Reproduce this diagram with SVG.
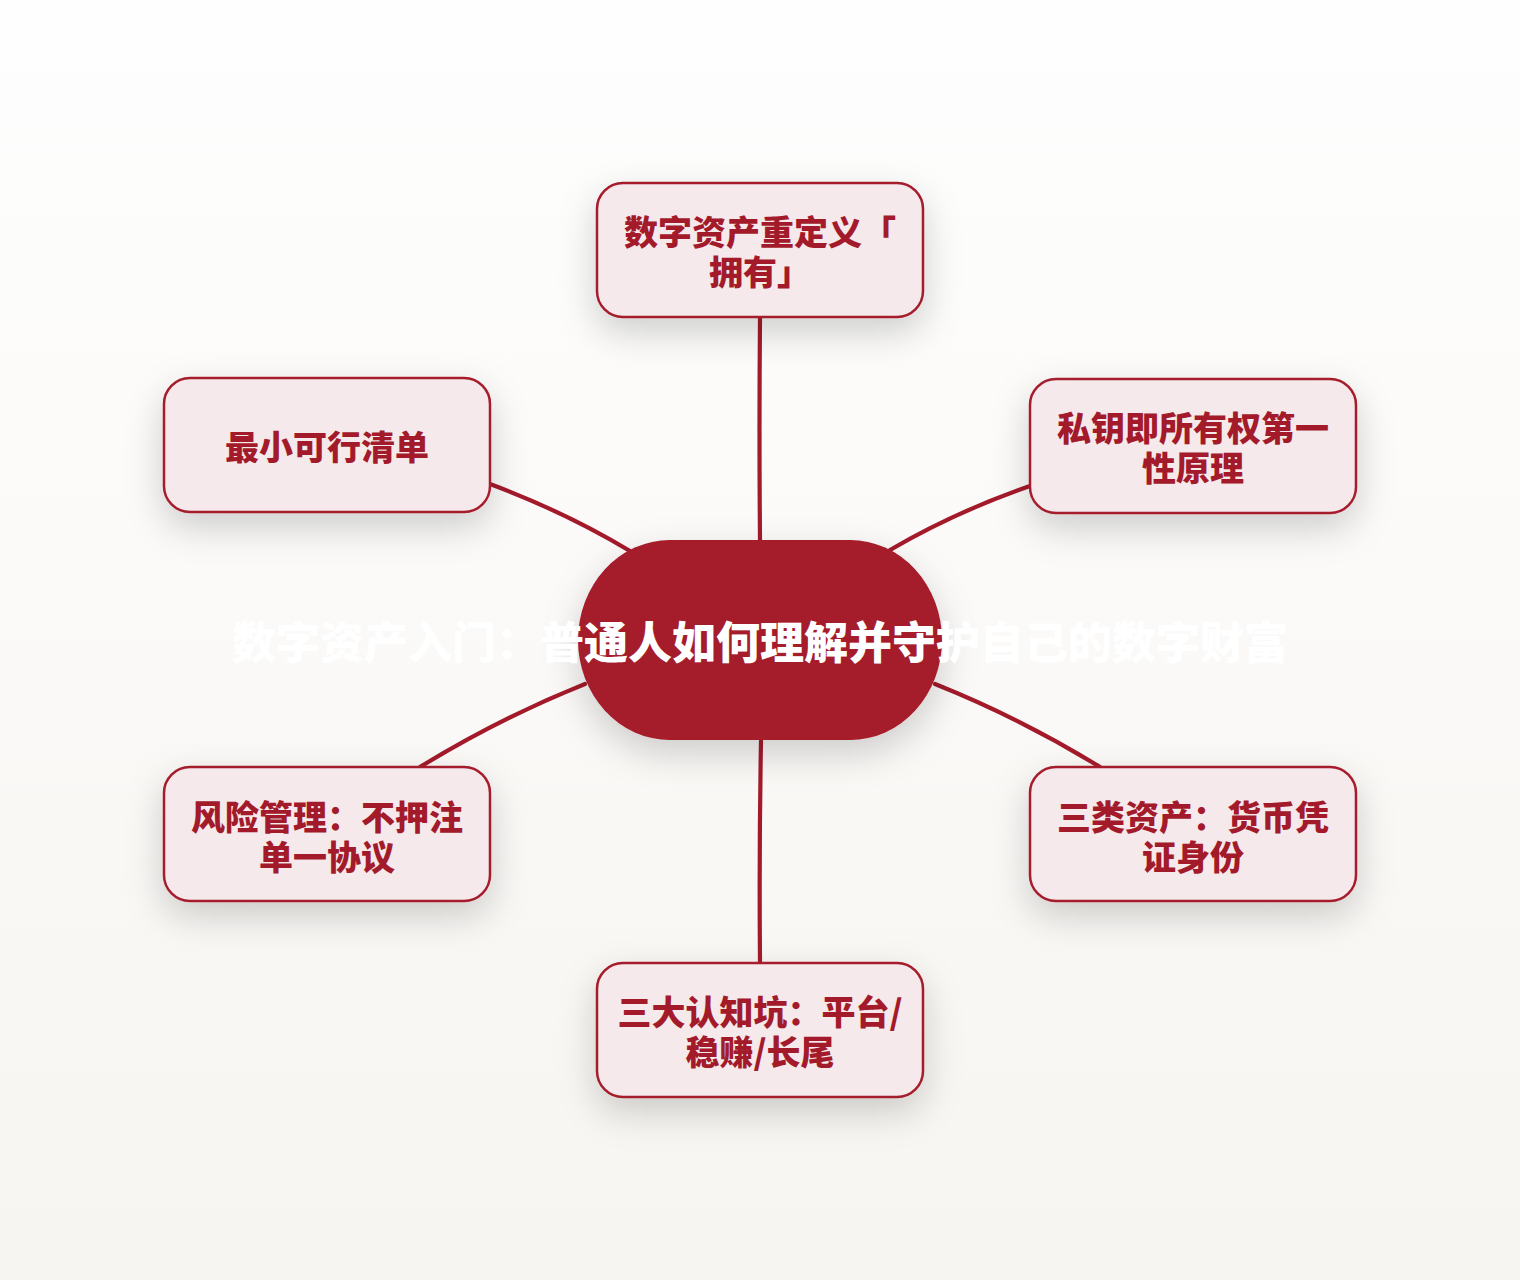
<svg xmlns="http://www.w3.org/2000/svg" width="1520" height="1280" viewBox="0 0 1520 1280">
<defs>
<linearGradient id="bg" x1="0" y1="0" x2="0" y2="1">
<stop offset="0" stop-color="#fefefe"/>
<stop offset="1" stop-color="#f7f5f1"/>
</linearGradient>
<filter id="sh" x="-40%" y="-40%" width="180%" height="200%">
<feDropShadow dx="0" dy="14" stdDeviation="18" flood-color="#000" flood-opacity="0.18"/>
</filter>
</defs>
<style>
.box{fill:#f5e9ec;stroke:#a51c2c;stroke-width:2.5}
.lbl{font-family:"Noto Sans CJK SC","Noto Sans",sans-serif;font-weight:900;font-size:34px;fill:#a31a2b;text-anchor:middle}
.ttl{font-family:"Noto Sans CJK SC","Noto Sans",sans-serif;font-weight:900;font-size:44px;fill:#ffffff;text-anchor:middle}
.edge{fill:none;stroke:#a31a2b;stroke-width:4.2;stroke-linecap:round}
</style>
<rect x="0" y="0" width="1520" height="1280" fill="url(#bg)"/>
<g id="connectors">
<path class="edge" d="M760 540 Q759 430 760 317"/>
<path class="edge" d="M890 550 Q955 512 1030 486"/>
<path class="edge" d="M630 551 Q565 512 490 484"/>
<path class="edge" d="M585 684 Q500 718 420 767"/>
<path class="edge" d="M935 684 Q1020 718 1100 767"/>
<path class="edge" d="M761 741 Q759 850 760 963"/>
</g>
<g id="center">
<rect x="578" y="540" width="364" height="200" rx="92" ry="100" fill="#a51a2b" filter="url(#sh)"/>
<text class="ttl" x="760" y="659">数字资产入门：普通人如何理解并守护自己的数字财富</text>
</g>
<g id="n1">
<rect class="box" x="597" y="183" width="326" height="134" rx="26" filter="url(#sh)"/>
<text class="lbl" x="760" y="245">数字资产重定义「</text>
<text class="lbl" x="760" y="285">拥有」</text>
</g>
<g id="n2">
<rect class="box" x="1030" y="379" width="326" height="134" rx="26" filter="url(#sh)"/>
<text class="lbl" x="1193" y="441">私钥即所有权第一</text>
<text class="lbl" x="1193" y="481">性原理</text>
</g>
<g id="n3">
<rect class="box" x="1030" y="767" width="326" height="134" rx="26" filter="url(#sh)"/>
<text class="lbl" x="1193" y="830">三类资产：货币凭</text>
<text class="lbl" x="1193" y="870">证身份</text>
</g>
<g id="n4">
<rect class="box" x="597" y="963" width="326" height="134" rx="26" filter="url(#sh)"/>
<text class="lbl" x="760" y="1025">三大认知坑：平台/</text>
<text class="lbl" x="760" y="1065">稳赚/长尾</text>
</g>
<g id="n5">
<rect class="box" x="164" y="767" width="326" height="134" rx="26" filter="url(#sh)"/>
<text class="lbl" x="327" y="830">风险管理：不押注</text>
<text class="lbl" x="327" y="870">单一协议</text>
</g>
<g id="n6">
<rect class="box" x="164" y="378" width="326" height="134" rx="26" filter="url(#sh)"/>
<text class="lbl" x="327" y="460">最小可行清单</text>
</g>
</svg>
